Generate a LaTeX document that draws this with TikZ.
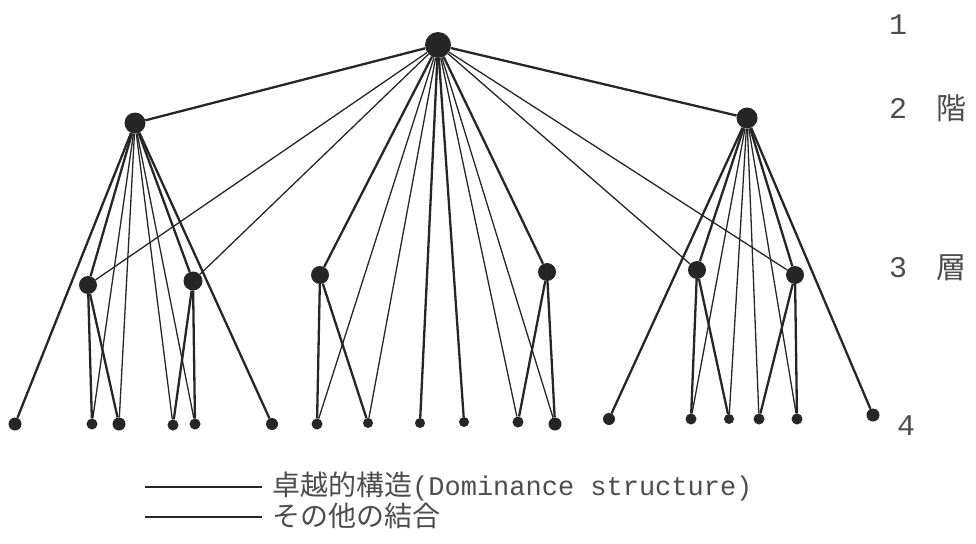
\documentclass[tikz,border=0pt]{standalone}
\usepackage{fontspec}
\setmainfont{Liberation Mono}
\newfontfamily\jp{Noto Sans CJK JP}
\definecolor{ink}{HTML}{262626}
\definecolor{txt}{HTML}{4D4D4D}
\begin{document}
\begin{tikzpicture}[x=1pt,y=-1pt,
  dot/.style={circle, fill=ink, draw=none, inner sep=0pt, minimum size=#1},
  dom/.style={draw=ink, line width=2.3pt},
  oth/.style={draw=ink, line width=1.3pt},
  lbl/.style={text=txt, inner sep=0pt, font=\fontsize{30}{30}\selectfont},
  leg/.style={text=txt, inner sep=0pt, anchor=west, font=\fontsize{27}{27}\selectfont}]
\useasboundingbox (0,0) rectangle (976,543);
% level 1
\node[dot=26] (T) at (438,45) {};
% level 2
\node[dot=21] (A) at (135,123) {};
\node[dot=21] (B) at (747,118) {};
% level 3
\node[dot=18] (a) at (88,285) {};
\node[dot=19] (b) at (193,281) {};
\node[dot=18] (c) at (320,275) {};
\node[dot=18] (d) at (547,272) {};
\node[dot=18] (e) at (697,270) {};
\node[dot=18] (f) at (795,275) {};
% level 4
\node[dot=13] (p1) at (15,424) {};
\node[dot=11] (p2) at (92,424) {};
\node[dot=13] (p3) at (119,424) {};
\node[dot=11] (p4) at (173,425) {};
\node[dot=11] (p5) at (195,424) {};
\node[dot=12] (p6) at (272,424) {};
\node[dot=11] (q1) at (317,424) {};
\node[dot=10] (q2) at (368,423) {};
\node[dot=10] (q3) at (420,423) {};
\node[dot=10] (q4) at (464,422) {};
\node[dot=11] (q5) at (518,422) {};
\node[dot=13] (q6) at (555,424) {};
\node[dot=12] (r1) at (609,419) {};
\node[dot=11] (r2) at (691,419) {};
\node[dot=10] (r3) at (729,419) {};
\node[dot=11] (r4) at (759,419) {};
\node[dot=11] (r5) at (797,419) {};
\node[dot=13] (r6) at (873,415) {};
% dominance structure
\foreach \u/\v in {T/A,T/B,T/c,T/d,T/q3,T/q4,
  A/p1,A/a,A/b,A/p6,a/p2,a/p3,b/p4,b/p5,
  c/q1,c/q2,d/q5,d/q6,
  B/r1,B/e,B/f,B/r6,e/r2,e/r3,f/r4,f/r5}
  \draw[dom] (\u) -- (\v);
% other connections
\foreach \u/\v in {T/a,T/b,T/e,T/f,T/q1,T/q2,T/q5,T/q6,
  A/p2,A/p3,A/p4,A/p5,B/r2,B/r3,B/r4,B/r5}
  \draw[oth] (\u) -- (\v);
% level labels
\node[lbl] (n1) at (898,25) {1};
\node[lbl] (n2) at (898,108) {2};
\node[lbl] (k1) at (951,108) {\jp 階};
\node[lbl] (n3) at (898,268) {3};
\node[lbl] (k2) at (951,268) {\jp 層};
\node[lbl] (n4) at (906,426) {4};
% legend
\coordinate (la1) at (145,487);
\coordinate (la2) at (262,487);
\coordinate (lb1) at (145,517);
\coordinate (lb2) at (262,517);
\draw[dom] (la1) -- (la2);
\draw[oth] (lb1) -- (lb2);
\node[leg] (t1) at (272,486) {\jp\fontsize{28}{28}\selectfont 卓越的構造\normalfont\fontsize{27}{27}\selectfont(Dominance structure)};
\node[leg] (t2) at (272,516) {\jp\fontsize{28}{28}\selectfont その他の結合};
\end{tikzpicture}
\end{document}
